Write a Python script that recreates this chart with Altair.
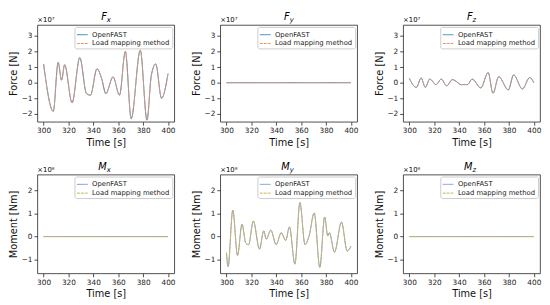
import altair as alt
import pandas as pd

# ---------------- data ----------------
FONT = "DejaVu Sans"

# Fx  (x 1e7 N)
fx_t = [300, 307.8, 311.7, 314.5, 316.9, 322.9, 329.1, 334.5, 337.7, 342.9, 346.8,
        350.0, 355.8, 361.0, 365.7, 370.4, 377.7, 383.1, 386.5, 390.1, 394.8, 400]
fx_v = [1.2, -1.83, 1.3, 0.16, 1.15, -1.28, 1.6, -0.7, -0.8, 0.89, 0.23,
        -0.7, 0.37, -0.8, 2.0, -2.3, 2.08, -2.4, 0.43, 1.2, -1.0, 0.58]

# Fy  (x 1e7 N)
fy_t = [300, 400]
fy_v = [0.0, 0.0]

# Fz  (x 1e7 N)
fz_t = [300, 305.6, 309.5, 312.8, 316.4, 321.5, 325.6, 330.0, 334.6, 337.7, 341.5,
        346.7, 350.5, 357.4, 363.3, 367.2, 371.8, 379.5, 383.8, 390.8, 396.7, 400]
fz_v = [0.27, -0.3, 0.3, -0.3, 0.23, -0.12, 0.23, -0.2, 0.2, 0.08, -0.12,
        -0.12, 0.23, -0.33, 0.65, -0.67, 0.38, -0.46, 0.5, -0.4, 0.33, 0.0]

# Mx  (x 1e8 Nm)
mx_t = [300, 400]
mx_v = [0.0, 0.0]

# My  (x 1e8 Nm)
my_t = [300, 301.3, 305.1, 308.9, 312.5, 315.5, 317.8, 321.6, 326.5, 330.0, 332.0,
        335.6, 340.0, 344.0, 347.6, 350.6, 355.0, 359.0, 363.1, 366.4, 370.5, 375.0,
        378.9, 381.4, 382.7, 386.8, 392.4, 397.0, 400]
my_v = [-0.7, -1.3, 1.15, -0.82, 0.54, -0.28, -0.35, 0.68, -0.54, 0.25, -0.11,
        0.28, -0.35, 0.17, -0.17, 0.42, -1.2, 1.48, -0.35, 0.03, 1.03, -1.34,
        0.85, 0.03, 0.17, -0.68, 0.63, -0.63, -0.42]

# Mz  (x 1e8 Nm)
mz_t = [300, 400]
mz_v = [0.0, 0.0]

methods = ["OpenFAST", "Load mapping method"]
x_ticks = [300, 320, 340, 360, 380, 400]
force_ticks = [-2, -1, 0, 1, 2, 3]
moment_ticks = [-1, 0, 1, 2]
force_domain = [-2.5, 3.7]
moment_domain = [-1.6, 2.7]
top_colors = ["#2f86bd", "#e8916e"]
bottom_colors = ["#7f93d6", "#c9b35a"]

W = 140


def panel(t, v, main, sub, exp, ylabel, domain, ticks, colors, h):
    rows = []
    for m in methods:
        for ti, vi in zip(t, v):
            rows.append({"t": ti, "v": vi, "method": m})
    df = pd.DataFrame(rows)
    line = alt.Chart(df).mark_line(strokeWidth=1, interpolate="monotone").encode(
        x=alt.X("t:Q", scale=alt.Scale(domain=[295, 405], nice=False, zero=False),
                axis=alt.Axis(values=x_ticks, title="Time [s]")),
        y=alt.Y("v:Q", scale=alt.Scale(domain=domain, nice=False, zero=False),
                axis=alt.Axis(values=ticks, title=ylabel, format="d")),
        color=alt.Color("method:N", scale=alt.Scale(domain=methods, range=colors),
                        legend=alt.Legend(title=None, orient="top-right")),
        strokeDash=alt.StrokeDash("method:N",
                                  scale=alt.Scale(domain=methods, range=[[1, 0], [3, 1]]),
                                  legend=alt.Legend(title=None, orient="top-right")),
        order=alt.Order("method:N", sort="descending"),
    )
    one = pd.DataFrame({"a": [0]})
    t_main = alt.Chart(one).mark_text(font=FONT, fontSize=10, fontStyle="italic",
                                      align="right", baseline="middle").encode(
        x=alt.value(W / 2 + 1), y=alt.value(-8), text=alt.value(main))
    t_sub = alt.Chart(one).mark_text(font=FONT, fontSize=7, fontStyle="italic",
                                     align="left", baseline="middle").encode(
        x=alt.value(W / 2 + 1), y=alt.value(-5), text=alt.value(sub))
    t_exp = alt.Chart(one).mark_text(font=FONT, fontSize=7, align="left",
                                     baseline="middle").encode(
        x=alt.value(0), y=alt.value(-5), text=alt.value(exp))
    return alt.layer(line, t_main, t_sub, t_exp).properties(width=W, height=h)


top = alt.hconcat(
    panel(fx_t, fx_v, "F", "x", "×10⁷", "Force [N]", force_domain, force_ticks, top_colors, 99),
    panel(fy_t, fy_v, "F", "y", "×10⁷", "Force [N]", force_domain, force_ticks, top_colors, 99),
    panel(fz_t, fz_v, "F", "z", "×10⁷", "Force [N]", force_domain, force_ticks, top_colors, 99),
    spacing=15,
).resolve_scale(color="independent", strokeDash="independent", x="independent", y="independent")

bottom = alt.hconcat(
    panel(mx_t, mx_v, "M", "x", "×10⁸", "Moment [Nm]", moment_domain, moment_ticks, bottom_colors, 101),
    panel(my_t, my_v, "M", "y", "×10⁸", "Moment [Nm]", moment_domain, moment_ticks, bottom_colors, 101),
    panel(mz_t, mz_v, "M", "z", "×10⁸", "Moment [Nm]", moment_domain, moment_ticks, bottom_colors, 101),
    spacing=15,
).resolve_scale(color="independent", strokeDash="independent", x="independent", y="independent")

chart = alt.vconcat(top, bottom, spacing=13).resolve_scale(
    color="independent", strokeDash="independent"
).properties(padding=0, background="white").configure_view(
    stroke="#222", strokeWidth=0.8
).configure_axis(
    grid=False, domain=False, tickColor="#222", tickWidth=0.8, tickSize=3.5,
    labelFont=FONT, labelFontSize=7.5, labelColor="#222", labelPadding=2,
    titleFont=FONT, titleFontSize=10, titleFontWeight="normal", titleColor="#111",
    titlePadding=3,
).configure_legend(
    labelFont=FONT, labelFontSize=7, labelColor="#222", symbolType="stroke",
    symbolStrokeWidth=1, symbolSize=120, rowPadding=0, padding=2, offset=2,
    fillColor="white", strokeColor="#cccccc", cornerRadius=2, labelOffset=4,
)

chart.save("out.html", embed_options={"renderer": "svg", "actions": False})
